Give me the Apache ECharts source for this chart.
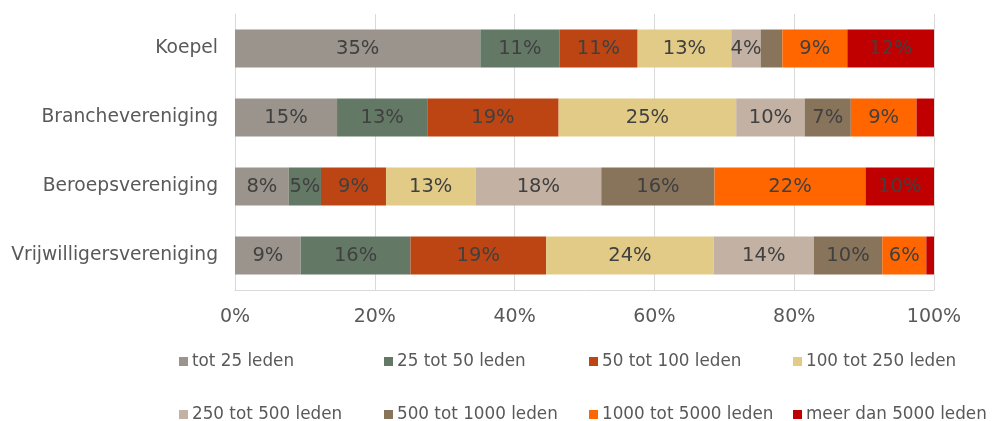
<!DOCTYPE html>
<html>
<head>
<meta charset="utf-8">
<script src="https://cdn.jsdelivr.net/npm/echarts@6/dist/echarts.min.js"></script>
<style>html,body{margin:0;padding:0;background:#fff;}#c{width:994px;height:421px;}</style>
</head>
<body>
<div id="c"></div>
<script>
var categories = ['Koepel', 'Branchevereniging', 'Beroepsvereniging', 'Vrijwilligersvereniging'];
var seriesNames = ['tot 25 leden', '25 tot 50 leden', '50 tot 100 leden', '100 tot 250 leden',
  '250 tot 500 leden', '500 tot 1000 leden', '1000 tot 5000 leden', 'meer dan 5000 leden'];
var colors = ['#9b948d', '#647866', '#bc4513', '#e2cb86', '#c3b2a3', '#88735b', '#ff6600', '#c00000'];
// values per series (%), order matches categories
var tot25 = [35.1, 14.6, 7.7, 9.4];
var v25tot50 = [11.3, 12.9, 4.6, 15.7];
var v50tot100 = [11.2, 18.8, 9.3, 19.4];
var v100tot250 = [13.4, 25.4, 12.8, 24.0];
var v250tot500 = [4.2, 9.8, 18.0, 14.3];
var v500tot1000 = [3.1, 6.6, 16.2, 9.8];
var v1000tot5000 = [9.3, 9.4, 21.6, 6.3];
var meer5000 = [12.4, 2.5, 9.8, 1.1];
var seriesValues = [tot25, v25tot50, v50tot100, v100tot250, v250tot500, v500tot1000, v1000tot5000, meer5000];
var xTicks = ['0%', '20%', '40%', '60%', '80%', '100%'];

var FONT = 'DejaVu Sans';
var series = seriesNames.map(function (name, i) {
  return {
    name: name,
    type: 'bar',
    stack: 'total',
    barCategoryGap: '45%',
    itemStyle: { color: colors[i] },
    label: {
      show: true,
      position: 'inside',
      fontFamily: FONT,
      fontSize: 19.5,
      color: '#404040',
      formatter: function (p) { return p.value >= 3.5 ? Math.round(p.value) + '%' : ''; }
    },
    emphasis: { disabled: true },
    data: seriesValues[i]
  };
});

var legendLefts = [179, 384, 589, 793];
var legendTops = [353, 406];
var legends = seriesNames.map(function (name, i) {
  return {
    data: [name],
    top: legendTops[Math.floor(i / 4)],
    left: legendLefts[i % 4],
    padding: 0,
    itemWidth: 9,
    itemHeight: 9,
    icon: 'rect',
    selectedMode: false,
    textStyle: { fontFamily: FONT, fontSize: 16.8, color: '#595959', padding: [0, 0, 0, -1] }
  };
});

var chart = echarts.init(document.getElementById('c'), null, { renderer: 'canvas' });
chart.setOption({
  animation: false,
  color: colors,
  grid: { left: 235, right: 60, top: 14, bottom: 131, containLabel: false },
  xAxis: {
    type: 'value',
    min: 0,
    max: 100,
    interval: 20,
    axisLine: { show: true, lineStyle: { color: '#d9d9d9' } },
    axisTick: { show: false },
    splitLine: { show: true, lineStyle: { color: '#d9d9d9', width: 1 } },
    axisLabel: {
      fontFamily: FONT, fontSize: 19, color: '#595959', margin: 18,
      formatter: function (v) { return xTicks[Math.round(v / 20)]; }
    }
  },
  yAxis: {
    type: 'category',
    inverse: true,
    data: categories,
    axisLine: { show: true, lineStyle: { color: '#d9d9d9' } },
    axisTick: { show: false },
    axisLabel: { fontFamily: FONT, fontSize: 18.7, color: '#595959', margin: 17 }
  },
  legend: legends,
  series: series
});
</script>
</body>
</html>
